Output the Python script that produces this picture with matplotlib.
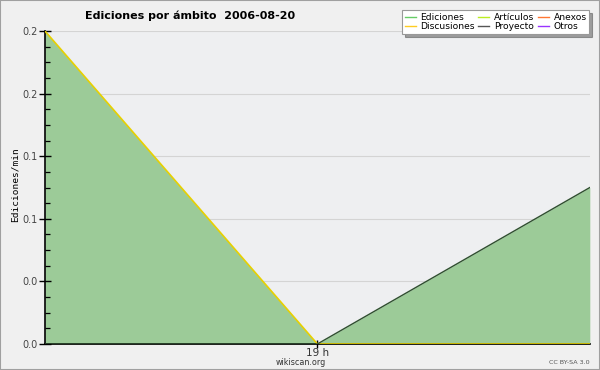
import matplotlib
matplotlib.use("Agg")
import matplotlib.pyplot as plt
from matplotlib.patches import Rectangle

# data
hours = [18, 19, 20]
discusiones = [0.25, 0.0, 0.0]
proyecto = [0.0, 0.0, 0.125]
articulos = [0.0, 0.0, 0.0]
anexos = [0.0, 0.0, 0.0]
otros = [0.0, 0.0, 0.0]
ediciones = [a + b + c + d + e for a, b, c, d, e in
             zip(discusiones, proyecto, articulos, anexos, otros)]

y_ticks = [0.0, 0.05, 0.10, 0.15, 0.20, 0.25]
y_labels = ["0.0", "0.0", "0.1", "0.1", "0.2", "0.2"]
x_ticks = [19]
x_labels = ["19 h"]

fig = plt.figure(figsize=(6, 3.7), dpi=100)
fig.patch.set_facecolor("#f0f0f0")
fig.add_artist(Rectangle((0, 0), 1, 1, transform=fig.transFigure,
                         fill=False, edgecolor="#a0a0a0", linewidth=1.5))

ax = fig.add_axes([0.075, 0.0703, 0.908, 0.8457])
ax.set_facecolor("#eeeff1")
ax.set_axisbelow(False)  # ticks drawn over the green fill

# grid under the fill
for v in y_ticks[1:]:
    ax.axhline(v, color="#d4d4d4", linewidth=0.8, zorder=1)

ax.fill_between(hours, ediciones, 0, color="#9ccb98", linewidth=0, zorder=2)
ax.plot(hours, discusiones, color="#e8d000", linewidth=1.2, zorder=3)
ax.plot(hours, proyecto, color="#2f4f2f", linewidth=1.0, zorder=3)

ax.set_xlim(18, 20)
ax.set_ylim(0, 0.25)
ax.set_yticks(y_ticks)
ax.set_yticklabels(y_labels)
ax.set_yticks([v / 80 for v in range(0, 21) if v % 4], minor=True)
ax.set_xticks(x_ticks)
ax.set_xticklabels(x_labels)

for s in ["top", "right"]:
    ax.spines[s].set_visible(False)
ax.spines["left"].set_linewidth(1.2)
ax.spines["bottom"].set_linewidth(1.2)
ax.tick_params(axis="y", which="major", direction="inout", length=8,
               width=1, labelsize=7, labelcolor="#444444", pad=1)
ax.tick_params(axis="y", which="minor", direction="in", length=3.5,
               width=0.9, color="black")
ax.tick_params(axis="x", direction="inout", length=6, width=1,
               labelsize=7.5, labelcolor="#333333", pad=0)

ax.set_ylabel("Ediciones/min", family="DejaVu Sans Mono", fontsize=6.8)
ax.yaxis.set_label_coords(-0.047, 0.51)

fig.text(0.141, 0.958, "Ediciones por ámbito  2006-08-20", fontsize=8,
         fontweight="bold", ha="left", va="center")
fig.text(0.502, 0.02, "wikiscan.org", fontsize=5.8, color="#333333",
         ha="center", va="center")
fig.text(0.983, 0.02, "CC BY-SA 3.0", fontsize=4.6, color="#555555",
         ha="right", va="center")

handles = []
specs = [("Ediciones", "#66cc66"), ("Discusiones", "#ffcc22"),
         ("Artículos", "#bbee22"), ("Proyecto", "#555555"),
         ("Anexos", "#ff7733"), ("Otros", "#9933ff")]
for name, col in specs:
    h, = ax.plot([], [], color=col, linewidth=1, label=name)
    handles.append(h)
leg = fig.legend(handles=handles, ncol=3, loc="upper right",
                 bbox_to_anchor=(0.99, 0.985), fontsize=6.6,
                 frameon=True, fancybox=False, shadow=True,
                 handlelength=1.2, handletextpad=0.5, columnspacing=0.4,
                 labelspacing=0.05, borderpad=0.3)
leg.get_frame().set_edgecolor("#999999")
leg.get_frame().set_linewidth(0.8)

fig.savefig("out.png", dpi=100, facecolor=fig.get_facecolor())
